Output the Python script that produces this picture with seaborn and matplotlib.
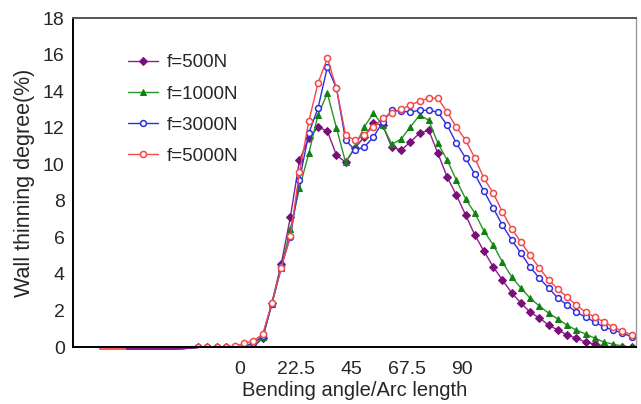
import numpy as np
import pandas as pd
import seaborn as sns
from matplotlib import pyplot as plt

# bending angle / arc length positions of the nodes
angle = [-17.0, -13.3, -9.5, -5.8, -2.0, 1.7, 5.4, 9.2, 12.9, 16.7, 20.4, 24.1,
         27.9, 31.6, 35.4, 39.1, 42.8, 46.6, 50.3, 54.1, 57.8, 61.5, 65.3, 69.0,
         72.8, 76.5, 80.2, 84.0, 87.7, 91.5, 95.2, 98.9, 102.7, 106.4, 110.2, 113.9,
         117.6, 121.4, 125.1, 128.9, 132.6, 136.3, 140.1, 143.8, 147.6, 151.3, 155.0, 158.8]

f500 = [0, 0, 0, 0, 0, 0, 0, 0.49, 2.41, 4.54, 7.11, 10.23,
        11.43, 12.04, 11.82, 10.5, 10.12, 10.89, 11.49, 12.25, 12.14, 10.94, 10.78, 11.21,
        11.71, 11.87, 10.61, 9.3, 8.32, 7.22, 6.13, 5.25, 4.38, 3.67, 2.95, 2.41,
        1.91, 1.59, 1.2, 0.93, 0.66, 0.49, 0.27, 0.16, 0.05, 0, 0, 0]
f1000 = [0, 0, 0, 0, 0, 0.03, 0.05, 0.55, 2.35, 4.32, 6.46, 8.7,
         10.61, 12.69, 13.89, 11.98, 10.12, 10.94, 12.04, 12.8, 12.14, 11.1, 11.38, 12.04,
         12.69, 12.42, 11.16, 10.23, 9.14, 8.1, 7.33, 6.35, 5.58, 4.65, 3.83, 3.23,
         2.68, 2.24, 1.86, 1.53, 1.2, 0.93, 0.71, 0.49, 0.27, 0.16, 0.05, 0]
f3000 = [0, 0, 0, 0, 0, 0.05, 0.22, 0.6, 2.35, 4.43, 6.02, 9.14,
         11.71, 13.07, 15.32, 14.17, 11.32, 10.78, 10.94, 11.49, 12.31, 12.96, 12.91, 12.86,
         12.96, 12.96, 12.86, 12.14, 11.16, 10.34, 9.46, 8.53, 7.6, 6.67, 5.85, 5.14,
         4.38, 3.77, 3.23, 2.68, 2.3, 1.91, 1.64, 1.37, 1.09, 0.93, 0.77, 0.55]
f5000 = [0.02, 0.02, 0.02, 0.02, 0.05, 0.2, 0.33, 0.71, 2.41, 4.32, 6.07, 9.57,
         12.36, 14.44, 15.81, 14.17, 11.6, 11.32, 11.6, 12.04, 12.53, 12.8, 13.02, 13.24,
         13.46, 13.62, 13.62, 12.86, 12.04, 11.32, 10.34, 9.24, 8.42, 7.39, 6.46, 5.75,
         5.03, 4.32, 3.67, 3.17, 2.74, 2.3, 1.91, 1.64, 1.37, 1.09, 0.88, 0.66]

# flat lead-in segments drawn without markers
tail_x = [-45.8, -26.4, -17.0]
tail_red_x = [-56.8, -26.4, -17.0]
tail_y = [-0.1, -0.1, 0.0]

labels = ['f=500N', 'f=1000N', 'f=3000N', 'f=5000N']
xticks = [-45, -22.5, 0, 22.5, 45, 67.5, 90, 112.5, 135]
xticklabels = ['', '', '0', '22.5', '45', '67.5', '90', '', '']

sns.set_style('white')
plt.rcParams['font.family'] = ['Liberation Sans', 'DejaVu Sans']

fig = plt.figure(figsize=(6.41, 4.04), dpi=100)
ax = fig.add_axes([0.114, 0.141, 0.878, 0.814])

# lead-in lines (sit just under the axis)
sns.lineplot(x=tail_red_x, y=tail_y, color='#ff5a5a', lw=1.6, clip_on=False, ax=ax)
for c in ['#3030e0', '#1f8f1f', '#8a1a8a']:
    sns.lineplot(x=tail_x, y=tail_y, color=c, lw=1.6, clip_on=False, ax=ax)

styles = [
    dict(color='#8b1e8b', marker='D', markersize=3.6, markerfacecolor='#7a0f7a', markeredgecolor='#7a0f7a'),
    dict(color='#239623', marker='^', markersize=4.6, markerfacecolor='#138013', markeredgecolor='#138013'),
    dict(color='#2d2de6', marker='o', markersize=4.2, markerfacecolor='white', markeredgecolor='#2d2de6', markeredgewidth=1.1),
    dict(color='#f24848', marker='o', markersize=4.4, markerfacecolor='white', markeredgecolor='#f24848', markeredgewidth=1.1),
]
for vals, lab, st in zip([f500, f1000, f3000, f5000], labels, styles):
    df = pd.DataFrame({'angle': angle, 'thin': vals})
    sns.lineplot(data=df, x='angle', y='thin', lw=1.0, label=lab, sort=False,
                 estimator=None, ax=ax, **st)

ax.set_xlim(-67.7, 160.5)
ax.set_ylim(0, 18)
ax.set_yticks(np.arange(0, 19, 2))
ax.set_xticks(xticks)
ax.set_xticklabels(xticklabels)
ax.tick_params(axis='x', direction='in', length=5, width=1, pad=10, labelsize=14, color='black')
ax.tick_params(axis='y', length=0, pad=6, labelsize=14)
ax.set_xlabel('Bending angle/Arc length', fontsize=14.5, labelpad=2)
ax.set_ylabel('Wall thinning degree(%)', fontsize=15.5, labelpad=6)

for s in ['left', 'bottom']:
    ax.spines[s].set_color('black')
    ax.spines[s].set_linewidth(1.4)
ax.spines['top'].set_color('#555555')
ax.spines['top'].set_linewidth(1.4)
ax.spines['right'].set_color('#999999')
ax.spines['right'].set_linewidth(1.0)

ax.legend(loc='upper left', bbox_to_anchor=(0.097, 0.89), frameon=False,
          fontsize=13.5, handlelength=1.6, handletextpad=0.5, labelspacing=0.75,
          borderpad=0, borderaxespad=0)

fig.savefig('out.png', dpi=100)
